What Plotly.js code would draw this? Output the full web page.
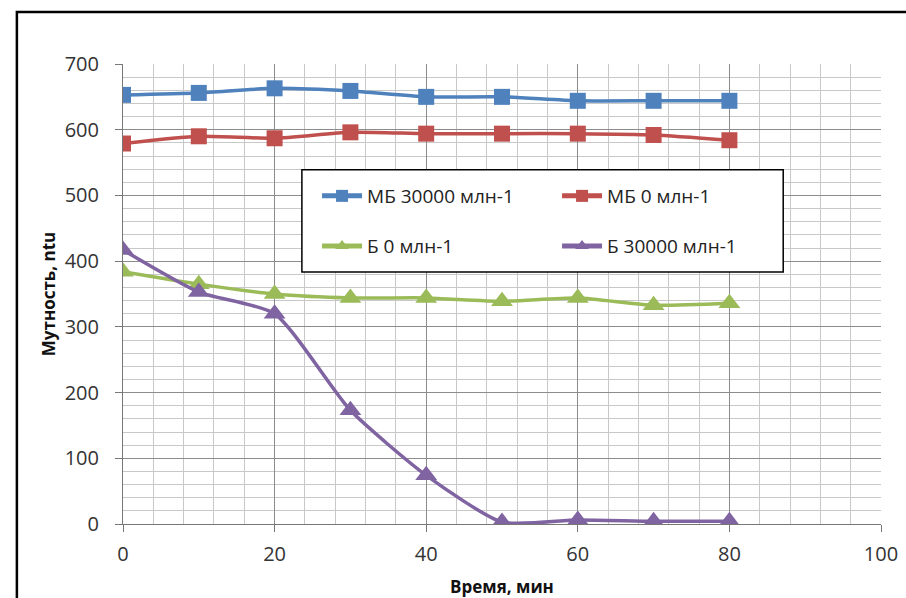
<!DOCTYPE html>
<html>
<head>
<meta charset="utf-8">
<script src="https://cdn.plot.ly/plotly-3.0.1.min.js"></script>
<style>
html,body{margin:0;padding:0;background:#fff;}
#chart{width:906px;height:598px;}
</style>
</head>
<body>
<div id="chart"></div>
<script>
const time = [0, 10, 20, 30, 40, 50, 60, 70, 80];
const mb30000 = [653, 656, 663, 659, 650, 650, 644, 644, 644];
const mb0 = [579, 590, 587, 596, 594, 594, 594, 592, 584];
const b0 = [384, 365, 350, 344, 344, 339, 344, 333, 336];
const b30000 = [417, 353, 320, 173, 74, 3, 6, 4, 4];
const names = ['МБ 30000 млн-1', 'МБ 0 млн-1', 'Б 0 млн-1', 'Б 30000 млн-1'];
const colors = ['#4F81BD', '#C0504D', '#9BBB59', '#8064A2'];

function tr(y, i, sym, leg) {
  return {
    x: time, y: y, name: names[i], type: 'scatter', mode: 'lines+markers',
    line: {color: colors[i], width: 3.5, shape: 'spline', smoothing: 0.6},
    marker: {color: colors[i], symbol: sym, size: sym === 'square' ? 16 : 19},
    legend: leg
  };
}
const data = [
  tr(mb30000, 0, 'square', 'legend'),
  tr(mb0, 1, 'square', 'legend'),
  tr(b0, 2, 'triangle-up', 'legend2'),
  tr(b30000, 3, 'triangle-up', 'legend2')
];

const fam = 'Open Sans, DejaVu Sans, sans-serif';
const tickFont = {family: fam, size: 20, color: '#333'};
const legFont = {family: fam, size: 19, color: '#222'};
const titleFont = {family: fam, size: 17, color: '#111'};

const layout = {
  width: 906, height: 598,
  margin: {l: 123, r: 25, t: 64, b: 74},
  paper_bgcolor: '#fff', plot_bgcolor: '#fff',
  font: tickFont,
  xaxis: {
    range: [0, 100], dtick: 20, tick0: 0,
    showgrid: true, gridcolor: '#8c8c8c', gridwidth: 1,
    minor: {dtick: 4, showgrid: true, gridcolor: '#c8c8c8', gridwidth: 1},
    ticks: 'outside', ticklen: 7, tickcolor: '#777',
    ticklabelstandoff: 5,
    showline: true, linecolor: '#777', linewidth: 1,
    zeroline: false,
    tickfont: tickFont,
    title: {text: '<b>Время, мин</b>', font: titleFont, standoff: 18}
  },
  yaxis: {
    range: [0, 700], dtick: 100, tick0: 0,
    showgrid: true, gridcolor: '#8c8c8c', gridwidth: 1,
    minor: {dtick: 20, showgrid: true, gridcolor: '#c8c8c8', gridwidth: 1},
    ticks: 'outside', ticklen: 7, tickcolor: '#777',
    ticklabelstandoff: 12,
    showline: true, linecolor: '#777', linewidth: 1,
    zeroline: false,
    tickfont: tickFont,
    title: {text: '<b>Мутность, ntu</b>', font: titleFont, standoff: 4}
  },
  showlegend: true,
  legend: {
    orientation: 'h', x: 0.256, xanchor: 'left', y: 0.713, yanchor: 'middle',
    bgcolor: 'rgba(0,0,0,0)', borderwidth: 0, font: legFont,
    itemwidth: 40, entrywidth: 185, entrywidthmode: 'pixels', traceorder: 'normal',
    itemsizing: 'constant'
  },
  legend2: {
    orientation: 'h', x: 0.256, xanchor: 'left', y: 0.604, yanchor: 'middle',
    bgcolor: 'rgba(0,0,0,0)', borderwidth: 0, font: legFont,
    itemwidth: 40, entrywidth: 185, entrywidthmode: 'pixels', traceorder: 'normal',
    itemsizing: 'constant'
  },
  shapes: [
    {type: 'rect', xref: 'paper', yref: 'paper', x0: 0.236, x1: 0.871, y0: 0.548, y1: 0.770,
     fillcolor: '#fff', line: {color: '#000', width: 1.5}, layer: 'above'},
    {type: 'rect', xref: 'paper', yref: 'paper', x0: -0.14, x1: 1.2, y0: -0.3, y1: 1.113,
     fillcolor: 'rgba(0,0,0,0)', line: {color: '#000', width: 2.5}, layer: 'above'}
  ]
};

Plotly.newPlot('chart', data, layout, {staticPlot: true, displayModeBar: false});
</script>
</body>
</html>
